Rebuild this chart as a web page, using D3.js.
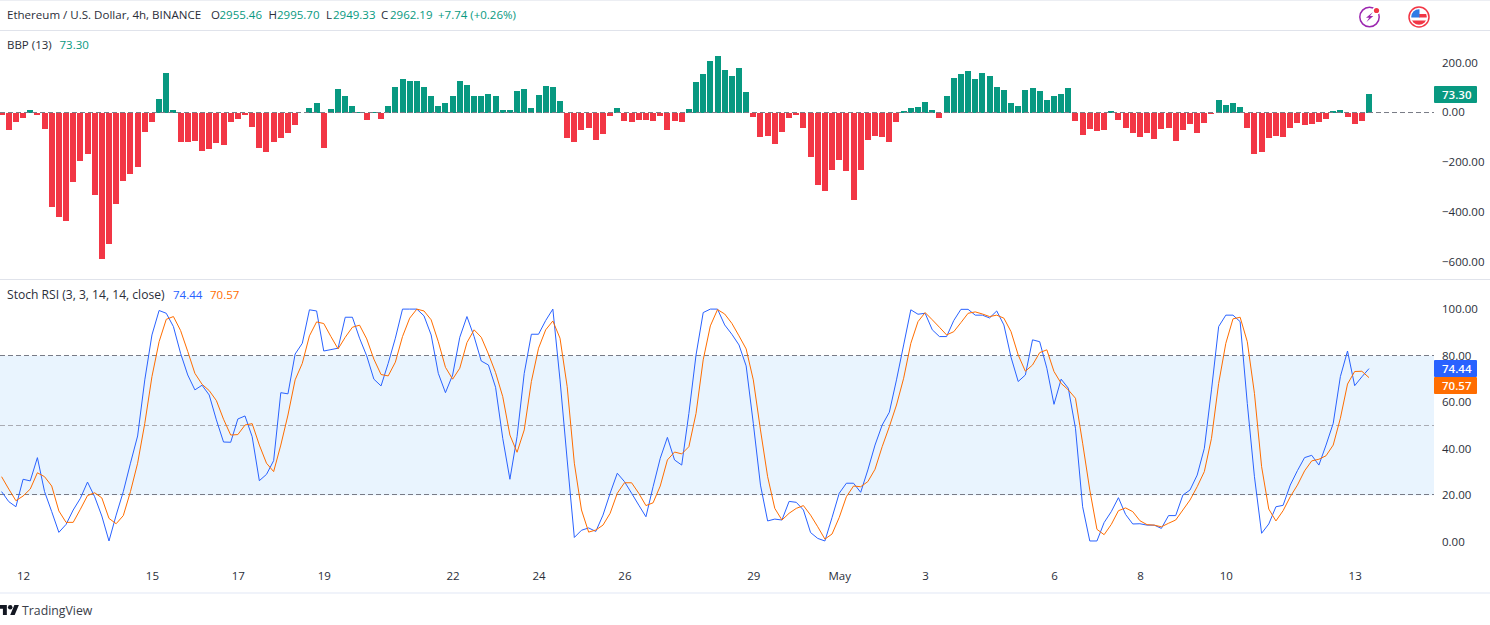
<!DOCTYPE html>
<html><head><meta charset="utf-8">
<script src="https://cdn.jsdelivr.net/npm/d3@7/dist/d3.min.js"></script>
<style>html,body{margin:0;padding:0;background:#fff;overflow:hidden}svg{display:block}
text{font-family:"Open Sans",sans-serif;font-size:11.5px;fill:#2a2e39}</style></head><body>
<script>
const bbpValues = [
-8,-70,-37,-21,11,-9,-66,-379,-419,-435,
-279,-194,-166,-331,-588,-528,-367,-275,-246,-218,
-78,-37,55,159,11,-118,-118,-114,-154,-146,
-122,-130,-37,-25,-9,-58,-142,-158,-118,-102,
-82,-50,-2,19,39,-142,15,95,67,27,
3,-29,1,-25,27,103,135,127,127,103,
67,27,39,67,127,111,67,67,75,67,
11,11,87,95,19,71,107,103,47,-102,
-118,-70,-62,-110,-86,-13,19,-33,-37,-29,
-29,-33,-13,-70,-33,-37,15,123,155,208,
228,172,147,180,83,-17,-98,-94,-126,-78,
-21,-9,-62,-178,-291,-315,-230,-190,-234,-351,
-230,-110,-94,-98,-118,-37,7,19,23,43,
11,-21,67,139,155,167,135,159,147,103,
91,39,27,91,99,87,51,67,75,99,
-33,-90,-66,-74,-70,7,-29,-62,-82,-98,
-82,-106,-66,-62,-114,-70,-46,-82,-42,-5,
51,31,39,23,-62,-166,-158,-102,-94,-98,
-62,-42,-50,-46,-38,-25,7,11,-17,-46,
-33,73.3];
const stochK = [
21.6,17.3,15.1,26.9,26.2,36.2,21.6,13.0,4.1,7.5,
13.7,18.7,25.7,19.4,11.1,0.4,11.5,21.6,33.8,45.5,
69.6,88.9,99.4,98.2,92.5,81.0,71.7,65.3,67.3,63.1,
52.4,42.9,42.8,52.8,54.1,45.2,26.3,29.0,34.9,64.1,
63.6,80.7,85.3,99.7,99.2,82.0,82.6,83.2,96.5,96.5,
87.5,79.9,69.9,67.0,76.7,87.5,100,100,100,97.1,
88.9,72.4,64.1,71.7,87.9,96.8,88.2,77.7,76.0,66.4,
44.5,26.9,45.2,72.4,89.2,89.2,95.1,100,69.6,35.2,
1.9,5.0,6.0,4.5,11.5,20.9,29.5,25.9,20.9,15.8,
10.8,23.7,35.9,44.9,35.2,33.0,55.2,80.3,98.5,100,
100,93.2,89.2,84.6,75.6,50.9,24.4,9.0,9.8,9.4,
17.4,17.0,13.7,4.0,1.5,0.4,10.5,20.9,25.2,25.2,
21.3,30.9,41.6,50.2,55.7,69.6,84.6,99.7,97.8,98.2,
91.1,88.2,88.2,95.1,99.9,99.9,97.4,97.4,96.2,99.2,
93.2,79.3,68.9,71.7,86.8,86.0,74.6,59.1,69.9,66.0,
48.8,15.1,0.4,0.4,8.3,13.0,19.0,11.8,7.7,7.8,
7.2,7.2,5.8,11.3,11.3,20.1,22.3,28.7,40.2,65.3,
92.5,97.4,97.4,94.6,59.5,28.0,3.7,7.7,15.1,15.7,
24.4,30.6,36.2,37.2,33.0,41.6,50.9,71.0,82.0,67.1,
70.9,74.44];
const stochD = [
28.0,22.7,17.7,19.7,22.7,29.7,28.0,24.0,13.3,8.4,
8.4,14.0,19.9,21.1,18.9,10.1,7.8,11.3,21.6,33.8,
50.9,71.0,86.0,95.6,96.8,90.8,81.8,72.4,67.7,65.0,
60.7,52.7,45.9,46.1,50.2,50.8,41.6,33.8,30.2,41.6,
54.5,69.6,76.7,88.5,94.5,93.8,88.2,82.9,87.9,92.2,
93.1,87.2,78.5,71.9,71.3,77.2,88.2,96.1,100,99.2,
95.4,86.0,75.0,69.9,74.6,85.6,91.1,87.9,80.7,72.7,
62.4,45.9,38.5,48.1,68.9,83.2,91.1,94.9,87.5,66.7,
33.8,13.7,4.2,5.1,7.2,12.3,20.9,25.4,25.4,20.9,
15.6,16.8,24.0,35.2,38.6,37.8,40.9,55.2,78.2,92.8,
99.8,97.9,93.9,88.5,82.9,69.6,48.1,28.0,14.4,9.4,
12.3,14.4,15.6,11.5,6.5,1.2,3.4,10.5,19.4,24.0,
23.7,25.9,31.2,40.9,49.5,58.8,70.3,85.3,94.6,98.5,
95.4,92.2,88.9,90.3,94.2,98.2,98.8,97.9,96.8,97.4,
96.1,90.3,80.3,73.3,76.0,81.3,82.5,73.2,68.1,65.3,
61.7,42.4,22.3,5.4,3.1,7.5,13.4,14.6,13.0,9.1,
7.4,7.2,6.5,8.0,9.4,13.7,18.0,23.7,30.2,44.5,
68.1,85.3,95.8,96.5,86.0,63.8,32.3,14.1,9.0,13.4,
19.4,24.4,30.5,34.8,35.5,37.0,41.6,53.1,67.8,73.2,
73.3,70.57];
const dateLabels = ["12","15","17","19","22","24","26","29","May","3","6","8","10","13"];
const dateBars = [3,21,33,45,63,75,87,105,117,129,147,159,171,189];
const bbpTicks = [200,0,-200,-400,-600];
const stochTicks = [100,80,60,40,20,0];
const stochLevels = [80,50,20];

const UP="#089981",DOWN="#f23645",BLUE="#2962ff",ORANGE="#ff6d00",GRID="#787b86",TXT="#2a2e39";
const svg=d3.select("body").append("svg").attr("width",1490).attr("height",625);
const x=d3.scaleLinear().domain([0,191]).range([1.6,1369]);
const yB=d3.scaleLinear().domain([-600,200]).range([261.7,62.8]);
const yS=d3.scaleLinear().domain([0,100]).range([541.9,309.1]);
const fmt=d3.format(".2f");
const minus=s=>s.replace("-","\u2212");
const hline=(y,c,w)=>svg.append("rect").attr("x",0).attr("width",1490).attr("y",y).attr("height",w).attr("fill",c);
hline(0,"#eceef3",1);hline(30,"#e0e3eb",1);hline(279,"#e0e3eb",1);hline(592,"#f0f3fa",2);

// Stoch band
svg.append("rect").attr("x",0).attr("width",1434).attr("y",yS(80)).attr("height",yS(20)-yS(80)).attr("fill","#e9f4fe");
svg.selectAll(".lvl").data(stochLevels).join("line").attr("x1",0).attr("x2",1434)
  .attr("y1",d=>Math.round(yS(d))+.5-1).attr("y2",d=>Math.round(yS(d))+.5-1)
  .attr("stroke",d=>d===50?"#a9abb3":GRID).attr("stroke-dasharray","5,3");

// BBP bars
svg.append("g").attr("shape-rendering","crispEdges").selectAll("rect").data(bbpValues).join("rect")
  .attr("x",(d,i)=>Math.round(x(i)-3)).attr("width",6)
  .attr("y",d=>Math.min(yB(d),yB(0))).attr("height",d=>Math.abs(yB(d)-yB(0)))
  .attr("fill",d=>d>=0?UP:DOWN);
svg.append("line").attr("x1",0).attr("x2",1434).attr("y1",yB(0)).attr("y2",yB(0))
  .attr("stroke",GRID).attr("stroke-dasharray","5,3");

// Stoch lines
const line=d3.line().x((d,i)=>x(i)).y(d=>yS(d));
svg.append("path").datum(stochK).attr("d",line).attr("fill","none").attr("stroke",BLUE).attr("stroke-width",1);
svg.append("path").datum(stochD).attr("d",line).attr("fill","none").attr("stroke",ORANGE).attr("stroke-width",1);

// Axes
function yAxis(scale,ticks){
  const g=svg.append("g").attr("transform","translate(1434,0)").call(
    d3.axisRight(scale).tickValues(ticks).tickSize(0).tickPadding(8).tickFormat(d=>minus(fmt(d))));
  g.select(".domain").remove();
  g.selectAll("text").style("font-size","11.5px").attr("fill",TXT).attr("dy","0.3em");
}
yAxis(yB,bbpTicks);yAxis(yS,stochTicks);
const xAxis=svg.append("g").attr("transform","translate(0,572)").call(
  d3.axisBottom(x).tickValues(dateBars).tickSize(0).tickPadding(0).tickFormat((d,i)=>dateLabels[i]));
xAxis.select(".domain").remove();
xAxis.selectAll("text").style("font-size","11.5px").attr("fill",TXT);

// Price labels
function badge(y0,y1,c,v){
  svg.append("rect").attr("x",1434).attr("width",43).attr("y",y0).attr("height",y1-y0).attr("rx",1).attr("fill",c);
  svg.append("text").attr("x",1442).attr("y",(y0+y1)/2+4).style("fill","#fff").style("font-weight",600).text(fmt(v));
}
badge(86,103,UP,bbpValues[191]);
badge(360,377,BLUE,stochK[191]);
badge(377,394,ORANGE,stochD[191]);

// Legends
const t=(xp,yp,s,c,fs)=>svg.append("text").attr("x",xp).attr("y",yp).style("fill",c||TXT).style("font-size",(fs||11.5)+"px").text(s);
t(7,19,"Ethereum / U.S. Dollar, 4h, BINANCE",TXT,11.55);
t(211,19,"O");t(219.5,19,"2955.46",UP);
t(268.5,19,"H");t(277,19,"2995.70",UP);
t(326,19,"L");t(333,19,"2949.33",UP);
t(381,19,"C");t(390,19,"2962.19",UP);
t(438,19,"+7.74 (+0.26%)",UP);
t(7,49,"BBP (13)");t(59.5,49,"73.30",UP);
t(7,299,"Stoch RSI (3, 3, 14, 14, close)",TXT,12.1);
t(173,299,"74.44",BLUE);t(210,299,"70.57",ORANGE);

// Footer logo
svg.append("path").attr("transform","translate(-1,601) scale(.56)")
  .attr("d","M14 25H7V14H0V7h14v18zM28 25h-8l7.5-18h8L28 25z").attr("fill","#131722");
svg.append("circle").attr("cx",-1+20*.56).attr("cy",601+11*.56).attr("r",4*.56).attr("fill","#131722");
svg.append("text").attr("x",22).attr("y",615).style("font-size","12.3px").style("fill","#3a3e49").text("TradingView");

// Header icons
const ic=svg.append("g").attr("transform","translate(1369.5,17)");
ic.append("circle").attr("r",9.7).attr("fill","none").attr("stroke","#9c27b0").attr("stroke-width",1.5);
ic.append("path").attr("d","M3.5,-5 L-3.5,0.8 L-0.3,0.8 L-3,5 L3.8,-1 L0.5,-1 Z").attr("fill","#9c27b0");
ic.append("circle").attr("cx",7).attr("cy",-6.5).attr("r",4).attr("fill","#fff");
ic.append("circle").attr("cx",7).attr("cy",-6.5).attr("r",2.6).attr("fill",DOWN);
const fl=svg.append("g").attr("transform","translate(1419,17)");
fl.append("clipPath").attr("id","fc").append("circle").attr("r",7.8);
const fg=fl.append("g").attr("clip-path","url(#fc)");
fg.append("rect").attr("x",-9).attr("y",-9).attr("width",18).attr("height",18).attr("fill","#fff");
fg.append("rect").attr("x",0).attr("y",-3).attr("width",9).attr("height",3.5).attr("fill",DOWN);
fg.append("rect").attr("x",-9).attr("y",3.5).attr("width",18).attr("height",6).attr("fill",DOWN);
fg.append("rect").attr("x",-9).attr("y",-9).attr("width",9.5).attr("height",9.5).attr("fill","#2f7ae5");
fl.append("circle").attr("r",10).attr("fill","none").attr("stroke",DOWN).attr("stroke-width",1.5);
</script></body></html>
